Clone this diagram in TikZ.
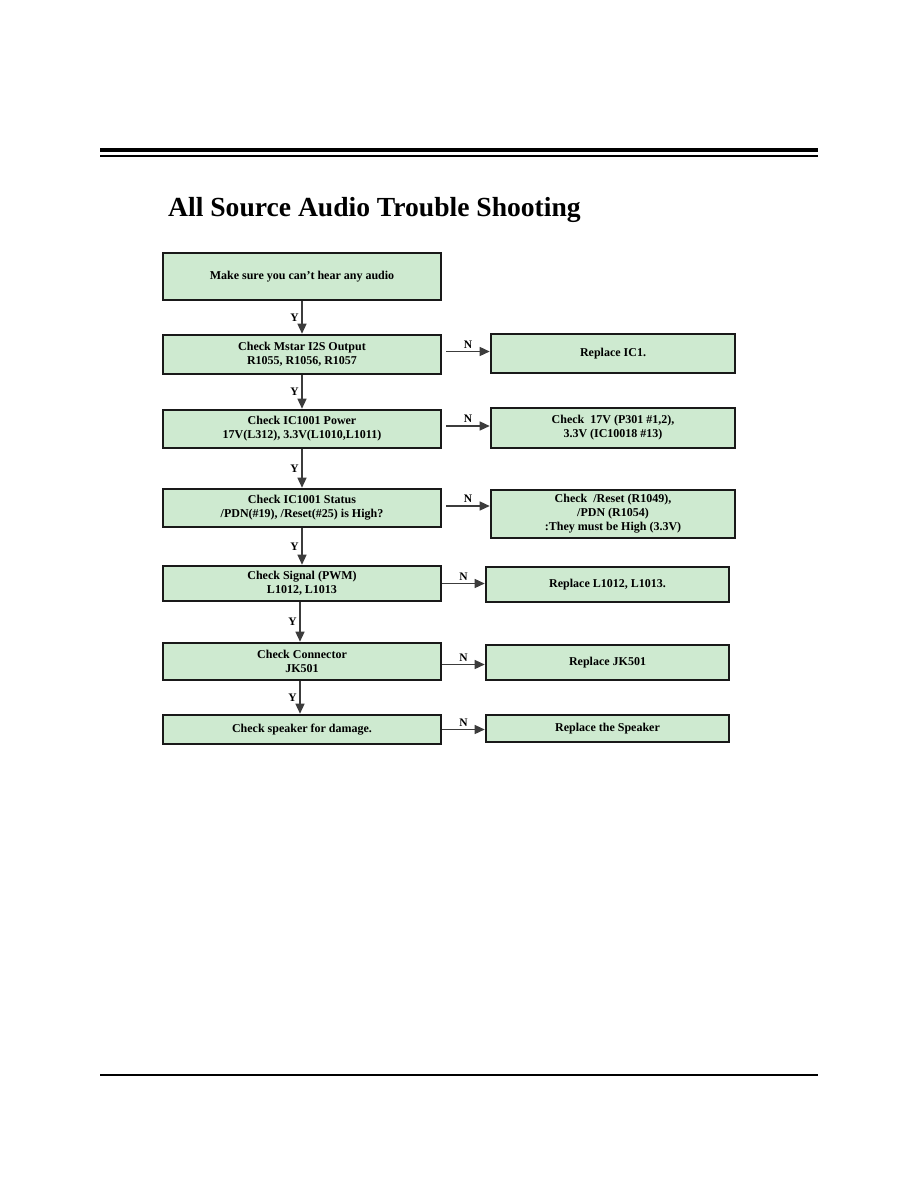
\documentclass[tikz,border=0pt]{standalone}
\usepackage{fontspec}
\setmainfont{Liberation Serif}
\usepackage{xcolor}
\usetikzlibrary{arrows.meta, positioning, calc}

\definecolor{boxgreen}{RGB}{206,234,208}
\definecolor{linegray}{RGB}{60,60,60}

\begin{document}
\begin{tikzpicture}[
      x=1pt, y=-1pt,
      font=\bfseries\fontsize{12}{14}\selectfont,
      checkbox/.style={
          draw=black!90,
          line width=2.6pt,
          fill=boxgreen,
          minimum width=278pt,
          inner sep=0pt,
          align=center
      },
      fixbox/.style={
          checkbox,
          minimum width=244pt
      },
      arrow/.style={-{Triangle[length=10pt, width=9pt]}, line width=1.4pt, draw=linegray},
      answer/.style={font=\bfseries\fontsize{11.5}{12}\selectfont, inner sep=2.5pt}
  ]
      \useasboundingbox (0,0) rectangle (918,1188);

      % --- Rules ---
      \draw[line width=4pt] (100,150) -- (818,150);
      \draw[line width=2pt] (100,155.5) -- (818,155.5);
      \draw[line width=2.5pt] (100,1075) -- (818,1075);

      % --- Title ---
      \node[anchor=base west, inner sep=0pt, font=\bfseries\fontsize{27.6}{30}\selectfont] (title) at (168,216) {All Source Audio Trouble Shooting};

      % --- Check steps ---
      \node[checkbox, minimum height=47pt] (make) at (302,276.5) {Make sure you can’t hear any audio};
      \node[checkbox, minimum height=39pt] (mstar) at (302,354.5) {Check Mstar I2S Output\\R1055, R1056, R1057};
      \node[checkbox, minimum height=38pt] (power) at (302,429) {Check IC1001 Power\\17V(L312), 3.3V(L1010,L1011)};
      \node[checkbox, minimum height=38pt] (status) at (302,508) {Check IC1001 Status\\/PDN(\#19), /Reset(\#25) is High?};
      \node[checkbox, minimum height=35pt] (pwm) at (302,583.5) {Check Signal (PWM)\\L1012, L1013};
      \node[checkbox, minimum height=37pt] (conn) at (302,661.5) {Check Connector\\JK501};
      \node[checkbox, minimum height=29pt] (spk) at (302,729.5) {Check speaker for damage.};

      % --- Fixes ---
      \node[fixbox, minimum height=39pt] (fix_ic) at (613,353.5) {Replace IC1.};
      \node[fixbox, minimum height=40pt] (fix_pw) at (613,428) {Check~~17V (P301 \#1,2),\\3.3V (IC10018 \#13)};
      \node[fixbox, minimum height=48pt] (fix_st) at (613,514) {Check~~/Reset (R1049),\\/PDN (R1054)\\:They must be High (3.3V)};
      \node[fixbox, minimum width=243pt, minimum height=35pt] (fix_l) at (607.5,584.5) {Replace L1012, L1013.};
      \node[fixbox, minimum width=243pt, minimum height=35pt] (fix_jk) at (607.5,662.5) {Replace JK501};
      \node[fixbox, minimum width=243pt, minimum height=27pt] (fix_spk) at (607.5,728.5) {Replace the Speaker};

      % --- Y connections ---
      \draw[arrow] (make) -- node[answer, left] {Y} (mstar);
      \draw[arrow] (mstar) -- node[answer, left] {Y} (power);
      \draw[arrow] (power) -- node[answer, left] {Y} (status);
      \draw[arrow] (status) -- node[answer, left] {Y} (pwm);
      \draw[arrow] ([xshift=-2pt]pwm.south) -- node[answer, left] {Y} ([xshift=-2pt]conn.north);
      \draw[arrow] ([xshift=-2pt]conn.south) -- node[answer, left] {Y} ([xshift=-2pt]spk.north);

      % --- N connections ---
      \draw[arrow] ([xshift=4pt, yshift=3pt]mstar.east) -- node[answer, above] {N} ([yshift=3pt]mstar.east -| fix_ic.west);
      \draw[arrow] ([xshift=4pt, yshift=3pt]power.east) -- node[answer, above] {N} ([yshift=3pt]power.east -| fix_pw.west);
      \draw[arrow] ([xshift=4pt, yshift=2pt]status.east) -- node[answer, above] {N} ([yshift=2pt]status.east -| fix_st.west);
      \draw[arrow] (pwm.east) -- node[answer, above] {N} (pwm.east -| fix_l.west);
      \draw[arrow] ([yshift=-3pt]conn.east) -- node[answer, above] {N} ([yshift=-3pt]conn.east -| fix_jk.west);
      \draw[arrow] (spk.east) -- node[answer, above] {N} (spk.east -| fix_spk.west);

  \end{tikzpicture}
\end{document}
